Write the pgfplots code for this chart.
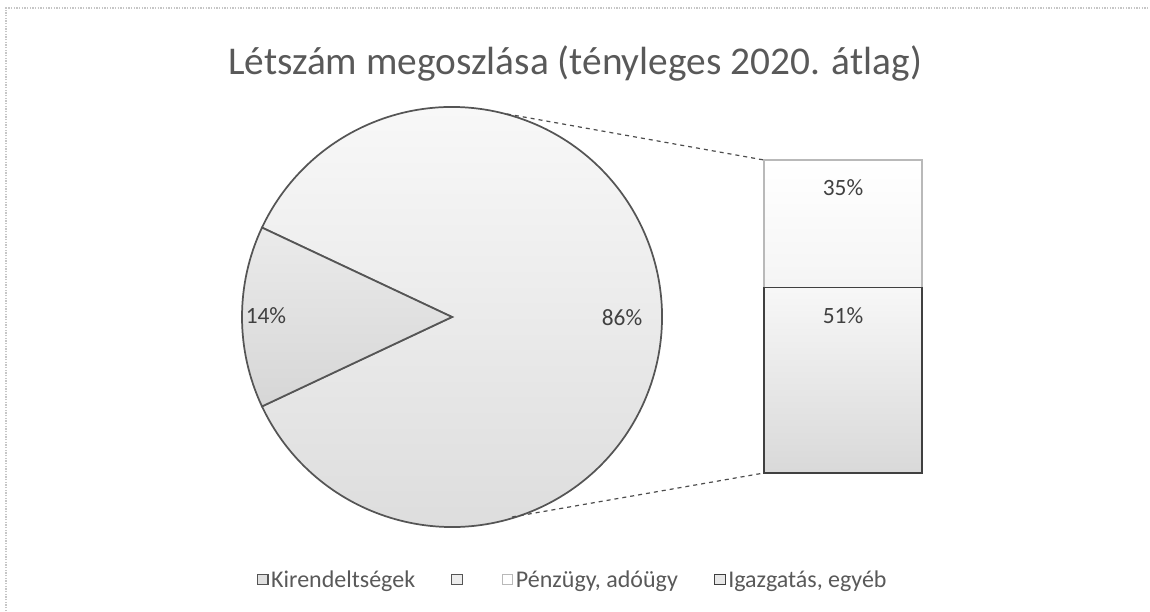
\documentclass[border=0pt]{standalone}
\usepackage{pgfplots}
\pgfplotsset{compat=1.18}
\usepackage{pgfplotstable}
\usepackage{fontspec}
\setmainfont{Carlito}
\definecolor{titlegray}{HTML}{595959}
\definecolor{labgray}{HTML}{404040}
\definecolor{edge}{HTML}{555555}
% pie: share of the two slices (percent)
\pgfplotstableread{
part value
Kirendeltsegek 14
Other 86
}\piedata
% bar of pie: split of the "Other" slice (percent)
\pgfplotstableread{
x penzugy igazgatas
0.5 35 51
}\bardata
\pgfplotsset{baraxis/.style={at={(573pt,103.5pt)}, anchor=south west,
  scale only axis, width=118.5pt, height=234.75pt,
  xmin=0, xmax=1, ymin=0, ymax=86, hide axis, clip=false}}
\begin{document}
\begin{tikzpicture}
\pgfplotstablegetelem{0}{value}\of\piedata \let\vA\pgfplotsretval
\pgfplotstablegetelem{1}{value}\of\piedata \let\vB\pgfplotsretval
\pgfplotstablegetelem{0}{penzugy}\of\bardata \let\vP\pgfplotsretval
\pgfplotstablegetelem{0}{igazgatas}\of\bardata \let\vI\pgfplotsretval
\pgfmathsetmacro\half{\vA*1.8}
\pgfmathsetmacro\aS{180-\half}
\pgfmathsetmacro\aE{180+\half}
\pgfmathsetmacro\bE{540-\half}
\pgfmathsetmacro\topP{\vI+\vP}
\begin{axis}[name=main, at={(0,0)}, anchor=south west,
  scale only axis, width=862.5pt, height=458.25pt,
  xmin=0, xmax=1150, ymin=0, ymax=611, hide axis, clip=false,
  legend columns=-1,
  legend style={at={(axis cs:573,31)}, anchor=center, draw=none, fill=none,
    font=\fontsize{18}{20}\selectfont, text=titlegray,
    /tikz/every even column/.append style={column sep=25pt},
    inner sep=0pt, nodes={inner sep=2pt}},
  legend image code/.code={\draw[#1, line width=0.8pt] (0pt,-3.6pt) rectangle (8pt,4.4pt);},
]
% chart border (top and left)
\addplot[forget plot, densely dotted, gray!45, line width=1pt] coordinates {(6,0) (6,603) (1150,603)};
% pie slices
\fill[top color=gray!4, bottom color=gray!28, draw=edge, line width=1.3pt]
  (axis cs:452,294) -- ++(\aE:157.5pt) arc[start angle=\aE, end angle=\bE, radius=157.5pt] -- cycle;
\fill[top color=gray!16, bottom color=gray!32, draw=edge, line width=1.3pt]
  (axis cs:452,294) -- ++(\aS:157.5pt) arc[start angle=\aS, end angle=\aE, radius=157.5pt] -- cycle;
% connector lines
\addplot[forget plot, dashed, gray!60!black, line width=0.9pt] coordinates {(507,497) (764,451)};
\addplot[forget plot, dashed, gray!60!black, line width=0.9pt] coordinates {(512,94) (764,138)};
% data labels
\node[text=labgray, font=\fontsize{17.5}{20}\selectfont] at (axis cs:266,295) {\vA\%};
\node[text=labgray, font=\fontsize{17.5}{20}\selectfont] at (axis cs:622,293) {\vB\%};
% title
\node[text=titlegray, font=\fontsize{29.5}{33}\selectfont] at (axis cs:575,548) {Létszám megoszlása (tényleges 2020. átlag)};
% legend
\addlegendimage{draw=edge, fill=gray!24}
\addlegendentry{Kirendeltségek}
\addlegendimage{draw=edge, fill=gray!14}
\addlegendentry{}
\addlegendimage{draw=gray!55, fill=white}
\addlegendentry{Pénzügy, adóügy}
\addlegendimage{draw=labgray, fill=gray!18}
\addlegendentry{Igazgatás, egyéb}
\end{axis}
\begin{axis}[baraxis, ybar stacked, bar width=118.5pt, bar shift=0pt]
\addplot[top color=gray!6, bottom color=gray!30, draw=labgray, line width=1.3pt] table[x=x, y=igazgatas] {\bardata};
\addplot[top color=white, bottom color=gray!8, draw=gray!55, line width=1.3pt] table[x=x, y=penzugy] {\bardata};
\end{axis}
\begin{axis}[baraxis]
\node[text=labgray, font=\fontsize{17.5}{20}\selectfont, yshift=-21pt] at (axis cs:0.5,\topP) {\vP\%};
\node[text=labgray, font=\fontsize{17.5}{20}\selectfont, yshift=-21pt] at (axis cs:0.5,\vI) {\vI\%};
\end{axis}
\pgfresetboundingbox
\path (0,0) rectangle (862.5pt,458.25pt);
\end{tikzpicture}
\end{document}
